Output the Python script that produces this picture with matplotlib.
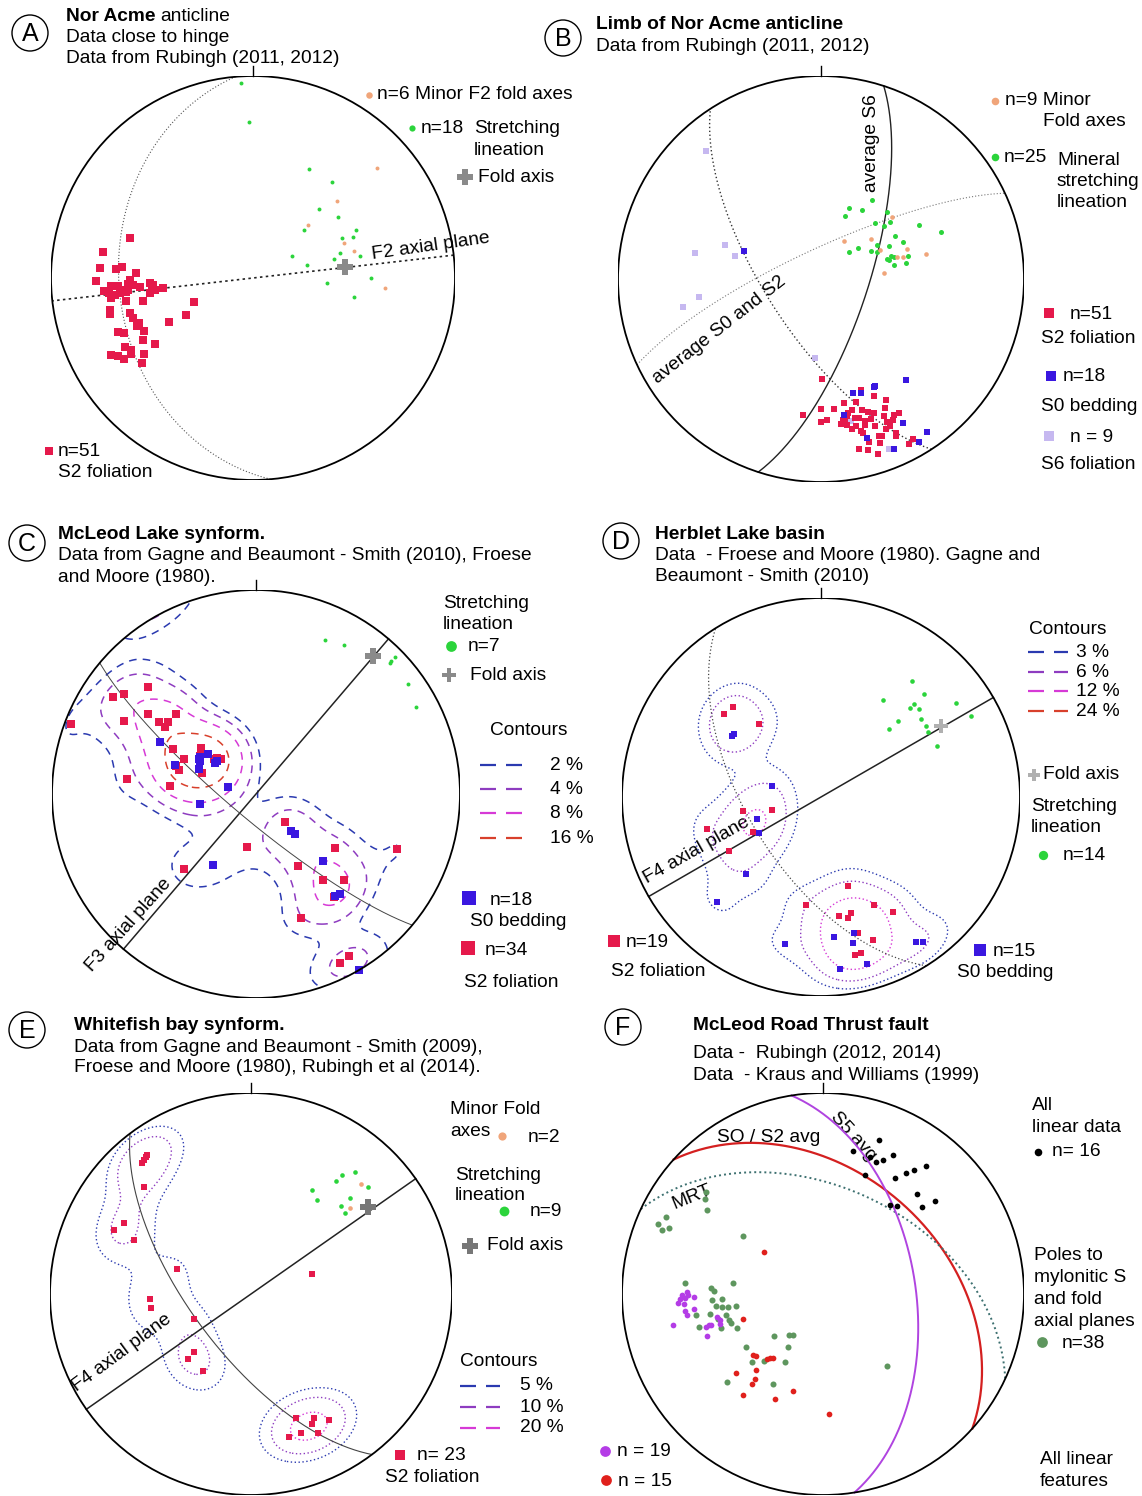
import numpy as np
import matplotlib
matplotlib.use("Agg")
import matplotlib.pyplot as plt
from matplotlib.patches import Circle

plt.rcParams["font.family"] = ["Liberation Sans", "DejaVu Sans"]

W, H = 1142, 1496
FS = 13.8

# ---------------- data: equal-area net coordinates (net radius = 1) ----------------
# Panel A - Nor Acme anticline, near hinge
a_s2 = [(-0.609, 0.197), (-0.741, 0.129), (-0.757, 0.050), (-0.679, 0.045), (-0.648, 0.055),
        (-0.776, -0.017), (-0.580, 0.025), (-0.608, -0.008), (-0.703, -0.041), (-0.666, -0.038),
        (-0.620, -0.028), (-0.593, -0.033), (-0.557, -0.045), (-0.511, -0.025), (-0.493, -0.033),
        (-0.447, -0.050), (-0.739, -0.066), (-0.712, -0.074), (-0.684, -0.083), (-0.657, -0.074),
        (-0.630, -0.071), (-0.703, -0.099), (-0.511, -0.074), (-0.630, -0.116), (-0.547, -0.116),
        (-0.292, -0.121), (-0.706, -0.157), (-0.706, -0.177), (-0.611, -0.174), (-0.593, -0.198),
        (-0.334, -0.182), (-0.566, -0.223), (-0.414, -0.220), (-0.575, -0.240), (-0.666, -0.268),
        (-0.639, -0.273), (-0.538, -0.260), (-0.547, -0.306), (-0.484, -0.326), (-0.635, -0.342),
        (-0.606, -0.355), (-0.703, -0.383), (-0.666, -0.385), (-0.639, -0.402), (-0.602, -0.375),
        (-0.542, -0.375), (-0.551, -0.421), (-0.620, -0.058), (-0.502, -0.045), (-0.484, -0.058),
        (-0.648, -0.058)]
a_stretch = [(-0.058, 0.964), (-0.022, 0.770), (0.277, 0.539), (0.389, 0.476), (0.325, 0.344),
             (0.423, 0.301), (0.250, 0.240), (0.511, 0.240), (0.443, 0.198), (0.493, 0.202),
             (0.429, 0.124), (0.529, 0.111), (0.195, 0.111), (0.401, 0.094), (0.265, 0.066),
             (0.584, 0.000), (0.365, -0.025), (0.502, -0.093)]
a_minor_fold = [(0.613, 0.545), (0.416, 0.383), (0.274, 0.264), (0.451, 0.174), (0.502, 0.136),
                (0.653, -0.051)]
a_fold_axis = (0.453, 0.053)
a_hinge_plane = (175, 34)      # strike, dip
a_f2_axial = (83.5, 90)

# Panel B - limb of Nor Acme anticline
b_s2 = [(0.005, -0.495), (-0.091, -0.672), (0.002, -0.639), (0.063, -0.639), (0.112, -0.610),
        (0.174, -0.607), (0.199, -0.548), (0.262, -0.574), (0.322, -0.598), (0.315, -0.634),
        (0.230, -0.656), (0.260, -0.659), (0.002, -0.705), (0.028, -0.695), (0.107, -0.695),
        (0.130, -0.675), (0.169, -0.684), (0.186, -0.684), (0.218, -0.700), (0.248, -0.689),
        (0.327, -0.705), (0.362, -0.672), (0.385, -0.659), (0.353, -0.695), (0.130, -0.721),
        (0.172, -0.725), (0.216, -0.721), (0.265, -0.725), (0.318, -0.741), (0.199, -0.749),
        (0.209, -0.757), (0.288, -0.774), (0.301, -0.774), (0.367, -0.757), (0.367, -0.774),
        (0.402, -0.711), (0.453, -0.787), (0.432, -0.815), (0.292, -0.810), (0.236, -0.803),
        (0.185, -0.839), (0.232, -0.844), (0.283, -0.861), (0.134, -0.659), (0.116, -0.700),
        (0.151, -0.741), (0.204, -0.643), (0.309, -0.675), (0.341, -0.725), (0.151, -0.646),
        (0.098, -0.716)]
b_s0 = [(-0.381, 0.136), (0.418, -0.498), (0.260, -0.533), (0.160, -0.561), (0.195, -0.564),
        (0.111, -0.672), (0.406, -0.708), (0.524, -0.754), (0.482, -0.803), (0.227, -0.782),
        (0.362, -0.836), (0.267, -0.525)]
b_s6 = [(-0.566, 0.631), (-0.619, 0.128), (-0.473, 0.169), (-0.425, 0.111), (-0.601, -0.090),
        (-0.680, -0.138), (-0.030, -0.389), (0.336, -0.839), (0.150, -0.700)]
b_stretch = [(0.253, 0.390), (0.137, 0.352), (0.204, 0.338), (0.120, 0.308), (0.327, 0.330),
             (0.265, 0.275), (0.341, 0.280), (0.309, 0.259), (0.482, 0.267), (0.591, 0.230),
             (0.366, 0.210), (0.278, 0.169), (0.336, 0.161), (0.406, 0.180), (0.183, 0.152),
             (0.139, 0.133), (0.248, 0.136), (0.274, 0.131), (0.344, 0.115), (0.323, 0.098),
             (0.359, 0.107), (0.429, 0.111), (0.418, 0.079), (0.359, 0.070), (0.336, 0.095)]
b_minor_fold = [(0.350, 0.305), (0.112, 0.185), (0.248, 0.197), (0.292, 0.144), (0.424, 0.148),
                (0.374, 0.108), (0.406, 0.108), (0.517, 0.123), (0.308, 0.030)]
b_avg_s6 = (18, 71)
b_avg_s0_s2 = (245, 78)
b_girdle = (147, 68)

# Panel C - McLeod Lake synform
c_s2 = [(-0.527, 0.524), (-0.700, 0.476), (-0.645, 0.488), (-0.527, 0.394), (-0.390, 0.390),
        (-0.649, 0.360), (-0.477, 0.354), (-0.447, 0.327), (-0.433, 0.354), (-0.908, 0.344),
        (-0.405, 0.221), (-0.268, 0.226), (-0.353, 0.172), (-0.208, 0.172), (-0.174, 0.172),
        (-0.377, 0.119), (-0.265, 0.103), (-0.630, 0.074), (-0.420, 0.041), (0.144, -0.139),
        (-0.043, -0.260), (0.388, -0.265), (0.692, -0.270), (-0.355, -0.367), (0.205, -0.352),
        (0.326, -0.424), (0.430, -0.424), (0.383, -0.507), (0.223, -0.609), (0.458, -0.792),
        (0.411, -0.830), (-0.193, 0.177), (-0.274, 0.185), (-0.390, 0.136)]
c_s0 = [(-0.471, 0.255), (-0.274, 0.180), (-0.274, 0.160), (-0.236, 0.196), (-0.189, 0.160),
        (-0.396, 0.141), (-0.280, 0.123), (-0.139, 0.033), (-0.274, -0.047), (0.171, -0.180),
        (0.191, -0.196), (-0.212, -0.347), (0.326, -0.327), (0.411, -0.489), (0.386, -0.502),
        (0.505, -0.862), (-0.280, 0.172), (-0.199, 0.152)]
c_stretch = [(0.336, 0.753), (0.432, 0.730), (0.655, 0.643), (0.664, 0.654), (0.679, 0.672),
             (0.745, 0.540), (0.786, 0.427)]
c_fold_axis = (0.574, 0.676)
c_f3_axial = (40.5, 90)
c_girdle = (130, 80)
c_levels = [2, 4, 8, 16]

# Panel D - Herblet Lake basin
d_s2 = [(-0.441, 0.452), (-0.488, 0.419), (-0.313, 0.369), (-0.391, -0.072), (-0.245, -0.067),
        (-0.575, -0.161), (-0.343, -0.176), (-0.464, -0.273), (0.134, -0.446), (-0.073, -0.541),
        (0.264, -0.544), (0.363, -0.578), (0.088, -0.596), (0.152, -0.583), (0.134, -0.610),
        (0.184, -0.683), (0.259, -0.720), (0.171, -0.792), (0.200, -0.784)]
d_s0 = [(-0.445, 0.308), (-0.248, 0.057), (-0.323, -0.109), (-0.313, -0.181), (-0.379, -0.385),
        (-0.525, -0.529), (-0.182, -0.739), (0.064, -0.705), (0.166, -0.683), (0.159, -0.734),
        (0.230, -0.839), (0.095, -0.864), (0.479, -0.729), (0.514, -0.729), (-0.438, 0.315)]
d_stretch = [(0.457, 0.585), (0.520, 0.519), (0.314, 0.486), (0.466, 0.467), (0.448, 0.447),
             (0.493, 0.444), (0.679, 0.472), (0.386, 0.384), (0.502, 0.394), (0.755, 0.405),
             (0.341, 0.342), (0.527, 0.355), (0.538, 0.325), (0.582, 0.258)]
d_fold_axis = (0.604, 0.355)
d_f4_axial = (60, 90)
d_girdle = (148, 60)
d_levels = [3, 6, 12, 24]

# Panel E - Whitefish bay synform
e_s2 = [(-0.517, 0.692), (-0.523, 0.680), (-0.532, 0.669), (-0.544, 0.651), (-0.532, 0.531),
        (-0.631, 0.354), (-0.684, 0.316), (-0.581, 0.267), (-0.366, 0.126), (0.301, 0.101),
        (-0.504, -0.023), (-0.498, -0.068), (-0.282, -0.123), (-0.282, -0.291), (-0.311, -0.325),
        (-0.241, -0.382), (0.225, -0.619), (0.313, -0.619), (0.390, -0.626), (0.301, -0.647),
        (0.250, -0.690), (0.335, -0.690), (0.191, -0.710)]
e_stretch = [(0.519, 0.609), (0.453, 0.593), (0.424, 0.560), (0.301, 0.515), (0.580, 0.531),
             (0.326, 0.470), (0.491, 0.478), (0.449, 0.440), (0.466, 0.404)]
e_minor_fold = [(0.547, 0.545), (0.491, 0.429)]
e_fold_axis = (0.581, 0.435)
e_f4_axial = (55, 90)
e_girdle = (143, 66)
e_levels = [5, 10, 20]

# Panel F - McLeod Road Thrust fault
f_linear = [(0.277, 0.765), (0.149, 0.710), (0.349, 0.690), (0.263, 0.657), (0.299, 0.668),
            (0.514, 0.637), (0.451, 0.619), (0.415, 0.604), (0.209, 0.590), (0.356, 0.577),
            (0.466, 0.499), (0.559, 0.461), (0.335, 0.441), (0.367, 0.438), (0.493, 0.433),
            (0.236, 0.682)]
f_poles = [(-0.781, 0.383), (-0.820, 0.347), (-0.802, 0.317), (-0.766, 0.328), (-0.583, 0.507),
           (-0.579, 0.420), (-0.586, 0.474), (-0.399, 0.289), (-0.687, 0.056), (-0.448, 0.056),
           (-0.556, 0.030), (-0.543, 0.013), (-0.550, -0.032), (-0.502, -0.023), (-0.532, -0.060),
           (-0.502, -0.065), (-0.471, -0.065), (-0.435, -0.061), (-0.561, -0.098), (-0.633, -0.103),
           (-0.520, -0.123), (-0.484, -0.106), (-0.466, -0.131), (-0.619, -0.164), (-0.505, -0.169),
           (-0.426, -0.169), (-0.460, -0.143), (-0.246, -0.209), (-0.169, -0.202), (-0.151, -0.202),
           (-0.385, -0.264), (-0.174, -0.264), (-0.353, -0.338), (-0.295, -0.335), (-0.187, -0.338),
           (-0.480, -0.438), (-0.250, -0.449), (0.320, -0.360)]
f_purple = [(-0.678, 0.010), (-0.700, -0.003), (-0.723, -0.045), (-0.687, -0.020), (-0.640, -0.015),
            (-0.691, -0.051), (-0.640, -0.073), (-0.687, -0.086), (-0.678, -0.106), (-0.748, -0.153),
            (-0.583, -0.164), (-0.568, -0.153), (-0.579, -0.209), (-0.529, -0.114), (-0.514, -0.131),
            (-0.511, -0.151), (-0.673, -0.007), (-0.709, -0.023), (-0.556, -0.156)]
f_red = [(-0.295, 0.207), (-0.399, -0.123), (-0.349, -0.302), (-0.331, -0.308), (-0.281, -0.322),
         (-0.263, -0.318), (-0.250, -0.318), (-0.435, -0.393), (-0.335, -0.380), (-0.340, -0.421),
         (-0.353, -0.449), (-0.399, -0.501), (-0.241, -0.524), (-0.151, -0.484), (0.032, -0.599)]
f_s0_s2 = (312, 40)
f_mrt = (295, 46)
f_s5 = (351, 52)

# colours
RED = "#e5194b"
BLUE = "#3a17e0"
LAV = "#c6b8f0"
GREEN = "#2bd43b"
ORANGE = "#f0a57a"
GREY = "#8a8a8a"
CONT = ["#2b3ab0", "#8e3cc0", "#d63ad6", "#d8402c"]


def project(v):
    v = np.atleast_2d(v).copy()
    v[v[:, 2] < 0] *= -1
    plunge = np.arcsin(np.clip(v[:, 2], -1, 1))
    trend = np.arctan2(v[:, 0], v[:, 1])
    r = np.sqrt(2) * np.sin((np.pi / 2 - plunge) / 2)
    return r * np.sin(trend), r * np.cos(trend)


def inv_project(x, y):
    r = np.clip(np.hypot(x, y), 0, 1)
    plunge = np.pi / 2 - 2 * np.arcsin(r / np.sqrt(2))
    trend = np.arctan2(x, y)
    return np.stack([np.cos(plunge) * np.sin(trend), np.cos(plunge) * np.cos(trend),
                     np.sin(plunge)], -1)


def great_circle(plane, n=300):
    s, d = np.radians(plane[0]), np.radians(plane[1])
    rake = np.linspace(0, np.pi, n)
    sv = np.array([np.sin(s), np.cos(s), 0.0])
    dd = s + np.pi / 2
    dv = np.array([np.cos(d) * np.sin(dd), np.cos(d) * np.cos(dd), np.sin(d)])
    v = np.outer(np.cos(rake), sv) + np.outer(np.sin(rake), dv)
    return project(v)


def density(data, k=50, n=241):
    # smoothed count, % of points per ~1% area of the net (axial data, wraps at the edge)
    g = np.linspace(-1.02, 1.02, n)
    X, Y = np.meshgrid(g, g)
    grid = inv_project(X, Y)
    a = np.array(data)
    v = inv_project(a[:, 0], a[:, 1])
    dots = np.abs(grid @ v.T)
    Z = np.exp(k * (dots - 1)).sum(-1) / len(a) * 100
    return X, Y, Z


fig = plt.figure(figsize=(W / 100, H / 100), dpi=100)
canvas = fig.add_axes([0, 0, 1, 1])
canvas.set_xlim(0, W)
canvas.set_ylim(H, 0)
canvas.axis("off")


def net(cx, cy, r):
    ax = fig.add_axes([(cx - r) / W, 1 - (cy + r) / H, 2 * r / W, 2 * r / H])
    ax.set_xlim(-1, 1)
    ax.set_ylim(-1, 1)
    ax.axis("off")
    ax.add_patch(Circle((0, 0), 1, fill=False, lw=1.3, color="black", zorder=6))
    ax.plot([0, 0], [1, 1.05], color="black", lw=1, clip_on=False)
    return ax


def pts(ax, data, **kw):
    a = np.array(data, ndmin=2)
    ax.scatter(a[:, 0], a[:, 1], linewidths=0, zorder=4, **kw)


def plane(ax, p, **kw):
    x, y = great_circle(p)
    ax.plot(x, y, zorder=3, **kw)


def contours(ax, data, levels, ls, k=50, lw=1.1):
    X, Y, Z = density(data, k)
    cs = ax.contour(X, Y, Z, levels=levels, colors=CONT[:len(levels)], linewidths=lw, zorder=2)
    cs.set_linestyle(ls)
    cs.set_clip_path(Circle((0, 0), 1, transform=ax.transData))


def label(x, y, s, **kw):
    kw.setdefault("fontsize", FS)
    canvas.text(x, y, s, ha=kw.pop("ha", "left"), va=kw.pop("va", "center"), **kw)


def letter(x, y, s):
    canvas.add_patch(Circle((x, y), 18, fill=False, lw=1, color="black"))
    canvas.text(x, y + 1, s, ha="center", va="center", fontsize=18)


def key(x, y, **kw):
    canvas.scatter([x], [y], linewidths=0, **kw)


def key_line(x0, x1, y, color):
    canvas.plot([x0, x1], [y, y], color=color, lw=1.6, ls=(0, (7.2, 4.5)))


DOT = (0, (1, 1.8))
DASH = (0, (5, 4))

# ---------------- A ----------------
ax = net(253, 278, 202)
plane(ax, a_hinge_plane, color="#555555", lw=0.8, ls=DOT)
plane(ax, a_f2_axial, color="#222222", lw=1.2, ls=(0, (1.5, 2)))
pts(ax, a_s2, marker="s", s=30, color=RED)
pts(ax, a_stretch, marker="o", s=8, color=GREEN)
pts(ax, a_minor_fold, marker="o", s=8, color=ORANGE)
pts(ax, [a_fold_axis], marker="P", s=130, color=GREY)
letter(30, 33, "A")
label(66, 16, "Nor Acme", weight="bold")
label(160, 16, "anticline")
label(66, 37, "Data close to hinge")
label(66, 58, "Data from Rubingh (2011, 2012)")
key(369, 95, marker="o", s=22, color=ORANGE)
label(377, 94, "n=6 Minor F2 fold axes")
key(412, 128, marker="o", s=20, color=GREEN)
label(421, 128, "n=18")
label(474, 128, "Stretching")
label(474, 150, "lineation")
key(465, 177, marker="P", s=120, color=GREY)
label(478, 177, "Fold axis")
label(431, 246, "F2 axial plane", ha="center", rotation=8)
key(49, 451, marker="s", s=40, color=RED)
label(58, 451, "n=51")
label(58, 472, "S2 foliation")

# ---------------- B ----------------
ax = net(821, 279, 203)
plane(ax, b_avg_s6, color="#222222", lw=1.0)
plane(ax, b_avg_s0_s2, color="#777777", lw=0.8, ls=DOT)
plane(ax, b_girdle, color="#333333", lw=1.0, ls=DOT)
pts(ax, b_s6, marker="s", s=20, color=LAV)
pts(ax, b_s2, marker="s", s=23, color=RED)
pts(ax, b_s0, marker="s", s=23, color=BLUE)
pts(ax, b_stretch, marker="o", s=13, color=GREEN)
pts(ax, b_minor_fold, marker="o", s=11, color=ORANGE)
letter(563, 38, "B")
label(596, 24, "Limb of Nor Acme anticline", weight="bold")
label(596, 46, "Data from Rubingh (2011, 2012)")
label(871, 143, "average S6", ha="center", rotation=90)
label(719, 330, "average S0 and S2", ha="center", rotation=38)
key(995, 101, marker="o", s=30, color=ORANGE)
label(1005, 100, "n=9 Minor")
label(1043, 121, "Fold axes")
key(995, 157, marker="o", s=30, color=GREEN)
label(1004, 157, "n=25")
label(1057, 160, "Mineral")
label(1057, 181, "stretching")
label(1057, 202, "lineation")
key(1049, 313, marker="s", s=60, color=RED)
label(1070, 314, "n=51")
label(1041, 338, "S2 foliation")
key(1051, 376, marker="s", s=60, color=BLUE)
label(1063, 376, "n=18")
label(1041, 406, "S0 bedding")
key(1049, 436, marker="s", s=60, color=LAV)
label(1070, 437, "n = 9")
label(1041, 464, "S6 foliation")

# ---------------- C ----------------
ax = net(256, 794, 204)
contours(ax, c_s2 + c_s0, c_levels, DASH, k=45)
plane(ax, c_f3_axial, color="#222222", lw=1.1)
plane(ax, c_girdle, color="#444444", lw=0.7)
pts(ax, c_s2, marker="s", s=27, color=RED)
pts(ax, c_s0, marker="s", s=27, color=BLUE)
pts(ax, c_stretch, marker="o", s=8, color=GREEN)
pts(ax, [c_fold_axis], marker="P", s=130, color=GREY)
letter(27, 543, "C")
label(58, 534, "McLeod Lake synform.", weight="bold")
label(58, 555, "Data from Gagne and Beaumont - Smith (2010), Froese")
label(58, 577, "and Moore (1980).")
label(129, 925, "F3 axial plane", ha="center", rotation=48)
label(443, 603, "Stretching")
label(443, 624, "lineation")
key(451, 646, marker="o", s=60, color=GREEN)
label(468, 646, "n=7")
key(449, 675, marker="P", s=100, color=GREY)
label(470, 675, "Fold axis")
label(490, 730, "Contours")
for yy, c, t in zip([765, 789, 813, 838], CONT, ["2 %", "4 %", "8 %", "16 %"]):
    key_line(480, 522, yy, c)
    label(550, yy, t)
key(469, 898, marker="s", s=90, color=BLUE)
label(490, 900, "n=18")
label(470, 921, "S0 bedding")
key(468, 948, marker="s", s=90, color=RED)
label(485, 950, "n=34")
label(464, 982, "S2 foliation")

# ---------------- D ----------------
ax = net(821, 797, 199)
contours(ax, d_s2 + d_s0, d_levels, DOT, k=45, lw=1.0)
plane(ax, d_f4_axial, color="#222222", lw=1.1)
plane(ax, d_girdle, color="#444444", lw=0.9, ls=DOT)
pts(ax, d_s2, marker="s", s=20, color=RED)
pts(ax, d_s0, marker="s", s=20, color=BLUE)
pts(ax, d_stretch, marker="o", s=11, color=GREEN)
pts(ax, [d_fold_axis], marker="P", s=110, color="#b0b0b0")
letter(621, 541, "D")
label(655, 534, "Herblet Lake basin", weight="bold")
label(655, 555, "Data  - Froese and Moore (1980). Gagne and")
label(655, 576, "Beaumont - Smith (2010)")
label(697, 850, "F4 axial plane", ha="center", rotation=29.5)
label(1029, 629, "Contours")
for yy, c, t in zip([652, 672, 691, 711], CONT, ["3 %", "6 %", "12 %", "24 %"]):
    key_line(1028, 1068, yy, c)
    label(1076, yy, t)
key(1034, 775, marker="P", s=70, color="#b0b0b0")
label(1043, 774, "Fold axis")
label(1031, 806, "Stretching")
label(1031, 827, "lineation")
key(1043, 855, marker="o", s=45, color=GREEN)
label(1063, 855, "n=14")
key(614, 941, marker="s", s=80, color=RED)
label(626, 942, "n=19")
label(611, 971, "S2 foliation")
key(980, 950, marker="s", s=80, color=BLUE)
label(993, 951, "n=15")
label(957, 972, "S0 bedding")

# ---------------- E ----------------
ax = net(251, 1294, 201)
contours(ax, e_s2, e_levels, DOT, k=45, lw=1.0)
plane(ax, e_f4_axial, color="#222222", lw=1.1)
plane(ax, e_girdle, color="#444444", lw=0.8)
pts(ax, e_s2, marker="s", s=24, color=RED)
pts(ax, e_stretch, marker="o", s=11, color=GREEN)
pts(ax, e_minor_fold, marker="o", s=11, color=ORANGE)
pts(ax, [e_fold_axis], marker="P", s=130, color="#777777")
letter(27, 1030, "E")
label(74, 1026, "Whitefish bay synform.", weight="bold")
label(74, 1047, "Data from Gagne and Beaumont - Smith (2009),")
label(74, 1068, "Froese and Moore (1980), Rubingh et al (2014).")
label(122, 1353, "F4 axial plane", ha="center", rotation=36.5)
label(450, 1109, "Minor Fold")
label(450, 1131, "axes")
key(502, 1136, marker="o", s=35, color=ORANGE)
label(528, 1138, "n=2")
label(455, 1175, "Stretching")
label(455, 1196, "lineation")
key(504, 1211, marker="o", s=50, color=GREEN)
label(530, 1211, "n=9")
key(470, 1246, marker="P", s=120, color="#777777")
label(487, 1246, "Fold axis")
label(460, 1362, "Contours")
for yy, c, t in zip([1386, 1407, 1428], CONT, ["5 %", "10 %", "20 %"]):
    key_line(460, 500, yy, c)
    label(520, yy, t)
key(400, 1455, marker="s", s=45, color=RED)
label(417, 1455, "n= 23")
label(385, 1478, "S2 foliation")

# ---------------- F ----------------
ax = net(823, 1294, 201)
plane(ax, f_s0_s2, color="#d42020", lw=1.6)
plane(ax, f_mrt, color="#3d7070", lw=1.4, ls=(0, (1, 1.6)))
plane(ax, f_s5, color="#b044e0", lw=1.4)
pts(ax, f_poles, marker="o", s=19, color="#5e965e")
pts(ax, f_purple, marker="o", s=17, color="#b43ce6")
pts(ax, f_red, marker="o", s=17, color="#e0201c")
pts(ax, f_linear, marker="o", s=17, color="black")
letter(623, 1027, "F")
label(693, 1026, "McLeod Road Thrust fault", weight="bold")
label(693, 1053, "Data -  Rubingh (2012, 2014)")
label(693, 1076, "Data  - Kraus and Williams (1999)")
label(769, 1137, "SO / S2 avg", ha="center")
label(853, 1136, "S5 avg", ha="center", rotation=-48)
label(692, 1197, "MRT", ha="center", rotation=22)
label(1032, 1106, "All")
label(1032, 1128, "linear data")
key(1038, 1152, marker="o", s=30, color="black")
label(1052, 1152, "n= 16")
label(1034, 1256, "Poles to")
label(1034, 1278, "mylonitic S")
label(1034, 1300, "and fold")
label(1034, 1321, "axial planes")
key(1042, 1342, marker="o", s=60, color="#5e965e")
label(1062, 1343, "n=38")
key(605, 1451, marker="o", s=60, color="#b43ce6")
label(617, 1451, "n = 19")
key(606, 1480, marker="o", s=60, color="#e0201c")
label(618, 1481, "n = 15")
label(1040, 1459, "All linear")
label(1040, 1481, "features")

fig.savefig("out.png", dpi=100)
